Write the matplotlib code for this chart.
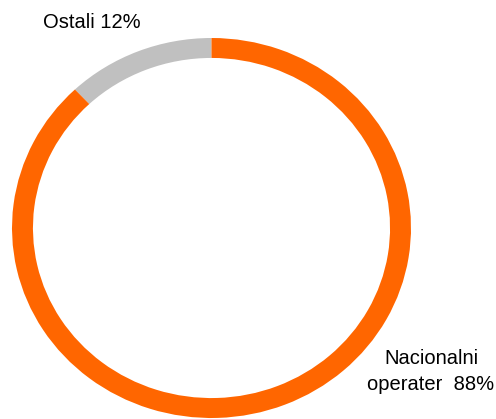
import matplotlib
matplotlib.use('Agg')
import matplotlib.pyplot as plt

labels = ["Ostali", "Nacionalni operater"]
shares = [12, 88]
colors = ['#C0C0C0', '#FF6600']

W, H = 496, 419
fig = plt.figure(figsize=(W / 100, H / 100), dpi=100)
plt.rcParams['font.family'] = ['Liberation Sans', 'DejaVu Sans']

# ring spans x 12..411, y 38..418 (pixels from top)
ax = fig.add_axes([12 / W, 1 - 418 / H, 399 / W, 380 / H])
ax.pie(shares, colors=colors, startangle=90, counterclock=True,
       radius=1.0, wedgeprops=dict(width=0.105, linewidth=0))
ax.set_aspect('auto')
ax.set_xlim(-1, 1)
ax.set_ylim(-1, 1)
ax.axis('off')

fs = 14.5
fig.text(43 / W, 1 - 28 / H, "%s %d%%" % (labels[0], shares[0]),
         fontsize=fs, ha='left', va='baseline')
fig.text(431 / W, 1 - 364 / H, "Nacionalni",
         fontsize=fs, ha='center', va='baseline')
fig.text(431 / W, 1 - 390 / H, "operater  %d%%" % shares[1],
         fontsize=fs, ha='center', va='baseline')

fig.savefig('out.png', dpi=100)
